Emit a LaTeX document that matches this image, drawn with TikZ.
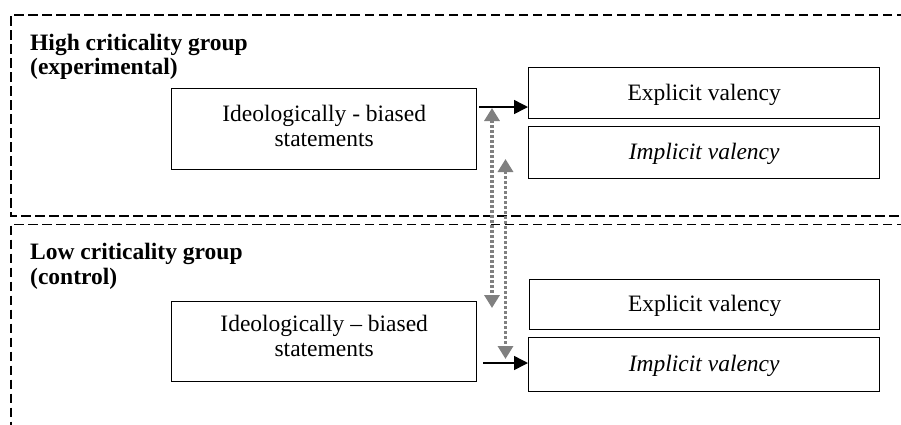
\documentclass[tikz,border=0pt]{standalone}
\usepackage{fontspec}
\setmainfont{Liberation Serif}
\usetikzlibrary{arrows.meta}
\begin{document}
\begin{tikzpicture}[x=1bp,y=-1bp,
  groupframe/.style={draw=black, line width=1.1bp, dash pattern=on 9.5bp off 4.5bp},
  boxnode/.style={draw=black, line width=1.4bp, rectangle, inner sep=0pt, anchor=north west},
  txt/.style={font=\fontsize{23.5bp}{25bp}\selectfont, align=center, inner sep=0pt},
  titletxt/.style={font=\fontsize{23.5bp}{24.5bp}\selectfont\bfseries, align=left, inner sep=0pt, anchor=north west},
  flow/.style={line width=1.5bp, -{Triangle[length=14bp,width=14bp]}},
  link/.style={draw=black!50, line width=3.2bp, dash pattern=on 3bp off 2bp,
    {Triangle[length=13bp,width=15bp,fill=black!50]}-{Triangle[length=13bp,width=15bp,fill=black!50]}}
]
\useasboundingbox (0,0) rectangle (901,424);
\clip (0,0) rectangle (901,424);
\fill[white] (0,0) rectangle (901,424);

% group frames
\draw[groupframe] (920,15) -- (11,15) -- (11,216) -- (920,216);
\draw[groupframe] (920,224.5) -- (11,224.5) -- (11,440);

% titles
\node[titletxt] (t1) at (30,33.5) {High criticality group\\(experimental)};
\node[titletxt] (t2) at (30,243) {Low criticality group\\(control)};

% boxes, top group
\node[boxnode, minimum width=305bp, minimum height=81bp] (ib1) at (171,88) {};
\node[txt] (ib1t) at (ib1.center) [yshift=3bp] {Ideologically - biased\\statements};
\node[boxnode, minimum width=351bp, minimum height=51bp] (ex1) at (528,67) {};
\node[txt] (ex1t) at (ex1.center) [yshift=-1.5bp] {Explicit valency};
\node[boxnode, minimum width=351bp, minimum height=52bp] (im1) at (528,126) {};
\node[txt] (im1t) at (im1.center) [yshift=-1bp] {\itshape Implicit valency};

% boxes, bottom group
\node[boxnode, minimum width=305bp, minimum height=80bp] (ib2) at (171,301) {};
\node[txt] (ib2t) at (ib2.center) [yshift=6bp] {Ideologically – biased\\statements};
\node[boxnode, minimum width=350bp, minimum height=50bp] (ex2) at (529,279) {};
\node[txt] (ex2t) at (ex2.center) [yshift=-1.5bp] {Explicit valency};
\node[boxnode, minimum width=351bp, minimum height=54bp] (im2) at (528,337) {};
\node[txt] (im2t) at (im2.center) [yshift=-1bp] {\itshape Implicit valency};

% flow arrows
\coordinate (a1) at (479,107);
\draw[flow] (a1) -- (a1 -| ex1.west);
\coordinate (a2) at (483,363);
\draw[flow] (a2) -- (a2 -| im2.west);

% dotted gray links
\coordinate (d1t) at (492,108);
\coordinate (d1b) at (492,308);
\draw[link] (d1t) -- (d1b);
\coordinate (d2t) at (505.5,159);
\coordinate (d2b) at (505.5,359);
\draw[link] (d2t) -- (d2b);
\end{tikzpicture}
\end{document}
